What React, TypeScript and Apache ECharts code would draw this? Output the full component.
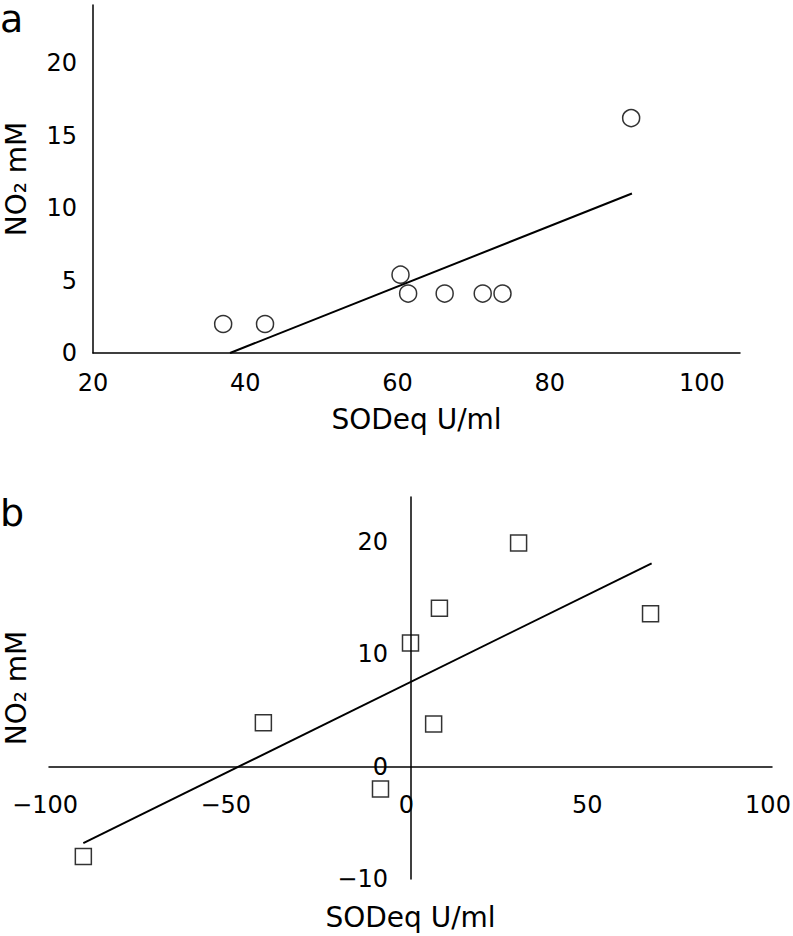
import React, { useEffect, useRef } from "react";
import * as echarts from "echarts";

// Panel a: SODeq vs NO2 (circles)
const aSOD = [37.1, 42.6, 60.4, 61.4, 66.2, 71.2, 73.8, 90.7];
const aNO2 = [2.0, 2.0, 5.4, 4.1, 4.1, 4.1, 4.1, 16.2];
const aFitSOD = [38.0, 90.8];
const aFitNO2 = [0, 11.0];

// Panel b: differences (squares)
const bSOD = [-90.5, -40.7, -8.3, 0, 8.0, 6.4, 29.9, 66.4];
const bNO2 = [-8.0, 3.9, -2.0, 11.0, 14.1, 3.8, 19.9, 13.6];
const bFitSOD = [-90.5, 66.7];
const bFitNO2 = [-6.8, 18.1];

const xTitle = "SODeq U/ml";
const yTitle = "NO₂ mM";
const panelLabels = ["a", "b"];

const FONT = "DejaVu Sans";

const pairs = (xs: number[], ys: number[]) => xs.map((x, i) => [x, ys[i]]);
const fmt = (v: number) => String(v).replace("-", "\u2212");

export default function App() {
  const ref = useRef<HTMLDivElement>(null);
  useEffect(() => {
    if (!ref.current) return;
    const chart = echarts.init(ref.current, undefined, { renderer: "svg" });
    const axisLine = { show: true, onZero: true, lineStyle: { color: "#000", width: 1.5 } };
    const label = (margin: number, showMax: boolean) => ({
      color: "#000",
      fontFamily: FONT,
      fontSize: 24,
      margin,
      showMaxLabel: showMax,
      formatter: fmt,
    });
    const nameStyle = { color: "#000", fontFamily: FONT, fontSize: 28 };
    const gridBase = { containLabel: false, outerBoundsMode: "none" };
    chart.setOption({
      animation: false,
      backgroundColor: "#fff",
      textStyle: { fontFamily: FONT },
      grid: [
        { ...gridBase, left: 93, top: 5, width: 647, height: 348 },
        { ...gridBase, left: 49, top: 497, width: 723, height: 382 },
      ],
      xAxis: [
        {
          gridIndex: 0,
          type: "value",
          min: 20,
          max: 105,
          interval: 20,
          axisLine,
          axisTick: { show: false },
          splitLine: { show: false },
          axisLabel: label(18, false),
          name: xTitle,
          nameLocation: "middle",
          nameGap: 52,
          nameMoveOverlap: false,
          nameTextStyle: nameStyle,
        },
        {
          gridIndex: 1,
          type: "value",
          min: -100,
          max: 100,
          interval: 50,
          axisLine,
          axisTick: { show: false },
          splitLine: { show: false },
          axisLabel: { ...label(-86, true), padding: [0, 8, 0, 0] },
          name: xTitle,
          nameLocation: "middle",
          nameGap: 24,
          nameMoveOverlap: false,
          nameTextStyle: nameStyle,
        },
      ],
      yAxis: [
        {
          gridIndex: 0,
          type: "value",
          min: 0,
          max: 24,
          interval: 5,
          axisLine,
          axisTick: { show: false },
          splitLine: { show: false },
          axisLabel: label(16, false),
          name: yTitle,
          nameLocation: "middle",
          nameGap: 63,
          nameMoveOverlap: false,
          nameTextStyle: nameStyle,
        },
        {
          gridIndex: 1,
          type: "value",
          min: -10,
          max: 24,
          interval: 10,
          axisLine,
          axisTick: { show: false },
          splitLine: { show: false },
          axisLabel: label(-339, false),
          name: yTitle,
          nameLocation: "middle",
          nameGap: 19,
          nameMoveOverlap: false,
          nameTextStyle: nameStyle,
        },
      ],
      series: [
        {
          type: "line",
          xAxisIndex: 0,
          yAxisIndex: 0,
          data: pairs(aFitSOD, aFitNO2),
          showSymbol: false,
          lineStyle: { color: "#000", width: 2 },
          z: 2,
        },
        {
          type: "scatter",
          xAxisIndex: 0,
          yAxisIndex: 0,
          data: pairs(aSOD, aNO2),
          symbol: "circle",
          symbolSize: 17,
          itemStyle: { color: "rgba(0,0,0,0)", borderColor: "#000", borderWidth: 1.5 },
          z: 3,
        },
        {
          type: "line",
          xAxisIndex: 1,
          yAxisIndex: 1,
          data: pairs(bFitSOD, bFitNO2),
          showSymbol: false,
          lineStyle: { color: "#000", width: 2 },
          z: 2,
        },
        {
          type: "scatter",
          xAxisIndex: 1,
          yAxisIndex: 1,
          data: pairs(bSOD, bNO2),
          symbol: "rect",
          symbolSize: 16,
          itemStyle: { color: "rgba(0,0,0,0)", borderColor: "#000", borderWidth: 1.5 },
          z: 3,
        },
      ],
      graphic: [
        {
          type: "text",
          left: 0,
          top: 0,
          style: { text: panelLabels[0], fontFamily: FONT, fontSize: 38, lineHeight: 26, fill: "#000" },
        },
        {
          type: "text",
          left: 0,
          top: 494,
          style: { text: panelLabels[1], fontFamily: FONT, fontSize: 38, fill: "#000" },
        },
      ],
    });
    return () => chart.dispose();
  }, []);
  return (
    <div
      ref={ref}
      style={{ position: "fixed", left: 0, top: 0, width: 793, height: 936, background: "#fff" }}
    />
  );
}
